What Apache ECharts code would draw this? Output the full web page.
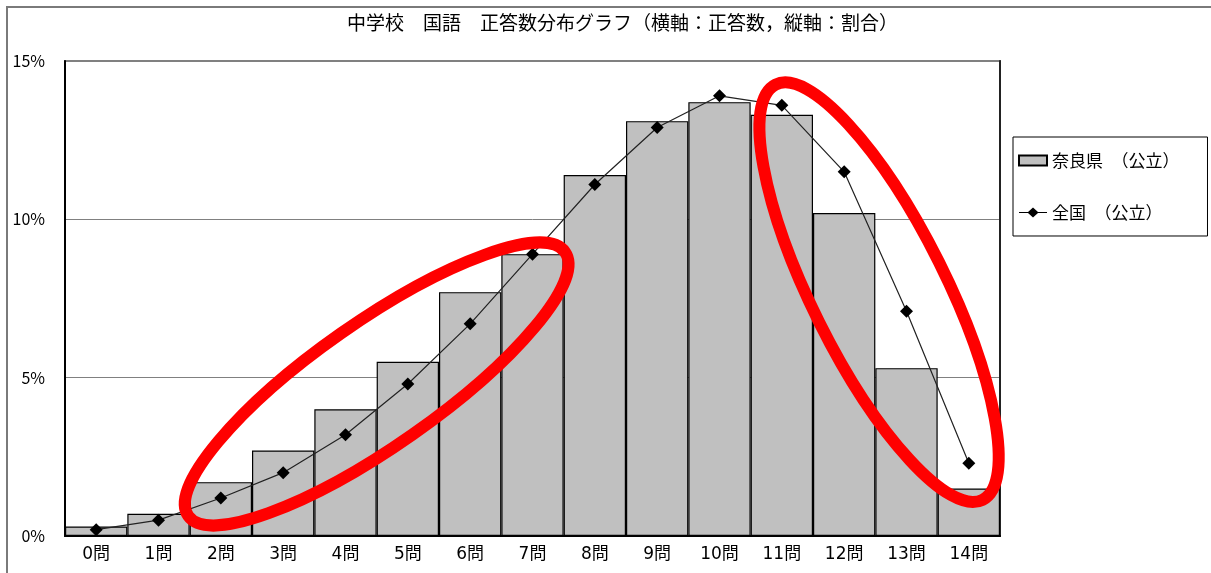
<!DOCTYPE html>
<html>
<head>
<meta charset="utf-8">
<style>
  html, body { margin: 0; padding: 0; background: #fff; }
  #chart { width: 1211px; height: 573px; }
</style>
<script src="https://cdn.jsdelivr.net/npm/echarts@6/dist/echarts.min.js"></script>
</head>
<body>
<div id="chart"></div>
<script>
// 正答数 (0〜14問)
const categories = ['0問', '1問', '2問', '3問', '4問', '5問', '6問', '7問', '8問', '9問', '10問', '11問', '12問', '13問', '14問'];
// 奈良県（公立）の割合 (%)
const naraValues = [0.3, 0.7, 1.7, 2.7, 4.0, 5.5, 7.7, 8.9, 11.4, 13.1, 13.7, 13.3, 10.2, 5.3, 1.5];
// 全国（公立）の割合 (%)
const nationalValues = [0.2, 0.5, 1.2, 2.0, 3.2, 4.8, 6.7, 8.9, 11.1, 12.9, 13.9, 13.6, 11.5, 7.1, 2.3];
// 縦軸の目盛り (%)
const yTicks = [0, 5, 10, 15];

const titleText = '中学校　国語　正答数分布グラフ（横軸：正答数，縦軸：割合）';
const naraName = '奈良県　（公立）';
const nationalName = '全国　（公立）';

const FONT = '"Noto Sans CJK JP", "Noto Sans", sans-serif';
const LABEL_FONT = '"DejaVu Sans", "Noto Sans CJK JP", sans-serif';

// 凡例用: 線の中央にひし形マーカー
const LINE_DIAMOND_ICON = 'path://M0,4.5 H9 L14,0 L19,4.5 H28 V5.5 H19 L14,10 L9,5.5 H0 Z';

const chart = echarts.init(document.getElementById('chart'), null, { renderer: 'canvas' });

const option = {
  animation: false,
  backgroundColor: '#ffffff',
  textStyle: { fontFamily: FONT, color: '#000' },
  title: {
    text: titleText,
    left: 342,
    top: 8,
    textStyle: { fontFamily: FONT, fontSize: 19, fontWeight: 'normal', color: '#000' }
  },
  legend: {
    orient: 'vertical',
    left: 1013,
    top: 137,
    padding: [15, 28, 15, 5],
    itemGap: 35,
    itemWidth: 28,
    itemHeight: 10,
    borderColor: '#000',
    borderWidth: 1,
    textStyle: { fontFamily: FONT, fontSize: 17, color: '#000' },
    data: [
      { name: naraName, icon: 'rect' },
      { name: nationalName, icon: LINE_DIAMOND_ICON }
    ]
  },
  grid: {
    left: 65,
    right: 211,
    top: 61,
    bottom: 37,
    show: true,
    borderColor: '#808080',
    borderWidth: 2,
    backgroundColor: 'transparent'
  },
  xAxis: {
    type: 'category',
    data: categories,
    boundaryGap: true,
    axisLine: { lineStyle: { color: '#000', width: 2 } },
    axisTick: { show: false },
    axisLabel: { fontFamily: LABEL_FONT, fontSize: 17, color: '#000', margin: 10, interval: 0 }
  },
  yAxis: [
    {
      type: 'value',
      min: yTicks[0],
      max: yTicks[yTicks.length - 1],
      interval: yTicks[1] - yTicks[0],
      axisLine: { show: true, lineStyle: { color: '#000', width: 2 } },
      axisTick: { show: false },
      splitLine: { show: true, lineStyle: { color: '#808080', width: 1 } },
      axisLabel: { fontFamily: FONT, fontSize: 16, color: '#000', margin: 20, formatter: '{value}%' }
    },
    {
      type: 'value',
      position: 'right',
      min: yTicks[0],
      max: yTicks[yTicks.length - 1],
      interval: yTicks[1] - yTicks[0],
      axisLine: { show: true, lineStyle: { color: '#222', width: 2 } },
      axisTick: { show: false },
      axisLabel: { show: false },
      splitLine: { show: false }
    }
  ],
  series: [
    {
      name: naraName,
      type: 'bar',
      data: naraValues,
      barWidth: '100%',
      barCategoryGap: '0%',
      itemStyle: { color: '#c0c0c0', borderColor: '#000', borderWidth: 1.2 },
      z: 2
    },
    {
      name: nationalName,
      type: 'line',
      data: nationalValues,
      symbol: 'diamond',
      symbolSize: 13,
      itemStyle: { color: '#000' },
      lineStyle: { color: '#222', width: 1.2 },
      z: 3
    }
  ]
};

chart.setOption(option);

// 強調用の赤い楕円（中心は 横軸の位置・縦軸の値 で指定）
const highlights = [
  { cat: 4.5, value: 4.8, rx: 230, ry: 62, angleDeg: 35 },
  { cat: 12.56, value: 7.7, rx: 232, ry: 67, angleDeg: -63.5 }
];

function toPixel(catPos, value) {
  const i0 = Math.floor(catPos);
  const frac = catPos - i0;
  const p0 = chart.convertToPixel({ gridIndex: 0 }, [i0, value]);
  const p1 = chart.convertToPixel({ gridIndex: 0 }, [i0 + 1, value]);
  return [p0[0] + (p1[0] - p0[0]) * frac, p0[1]];
}

const graphics = [
  // 外枠（上辺と左辺）
  {
    type: 'polyline',
    shape: { points: [[7, 600], [7, 7], [1260, 7]] },
    style: { fill: 'none', stroke: '#7a7a7a', lineWidth: 2 },
    silent: true,
    z: 1
  }
];

highlights.forEach(function (h) {
  const c = toPixel(h.cat, h.value);
  graphics.push({
    type: 'ellipse',
    x: c[0],
    y: c[1],
    rotation: h.angleDeg * Math.PI / 180,
    shape: { cx: 0, cy: 0, rx: h.rx, ry: h.ry },
    style: { fill: 'none', stroke: '#ff0000', lineWidth: 12 },
    silent: true,
    z: 100
  });
});

chart.setOption({ graphic: graphics });
</script>
</body>
</html>
